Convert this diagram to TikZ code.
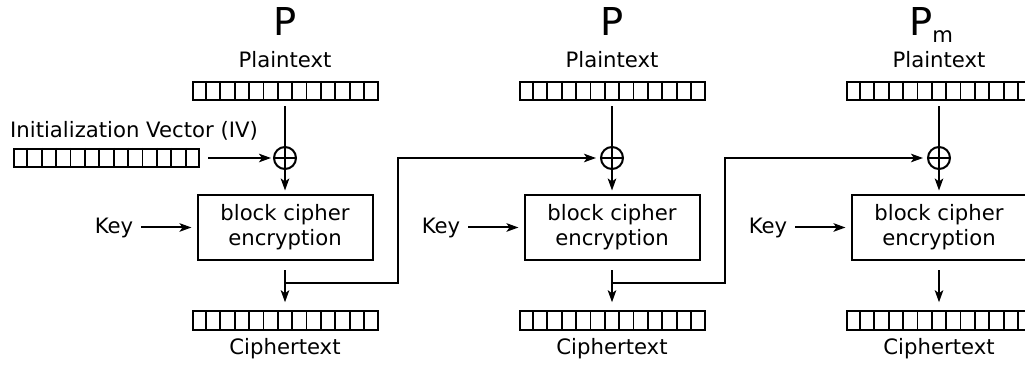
\documentclass[tikz,border=0pt]{standalone}
\usepackage{fontspec}
\setmainfont{DejaVu Sans}
\usetikzlibrary{calc,arrows.meta}
\tikzset{
  every node/.style={font=\fontsize{21.2}{25}\selectfont, inner sep=0pt},
  ln/.style={line width=2pt},
  arr/.style={ln, -{Stealth[length=12pt,width=8.5pt,inset=3pt]}},
  reg/.style={draw, rectangle, line width=2pt, minimum width=185pt, minimum height=18.5pt},
  cell/.style={line width=1.8pt},
  enc/.style={draw, rectangle, line width=2pt, minimum width=175pt, minimum height=65pt, align=center},
  xor/.style={draw, circle, line width=2pt, minimum size=22pt,
    path picture={\draw[line width=1.8pt] (path picture bounding box.north) -- (path picture bounding box.south)
      (path picture bounding box.west) -- (path picture bounding box.east);}},
  big/.style={font=\fontsize{38.4}{40}\selectfont, anchor=base west},
  lbl/.style={anchor=base},
}
\newcommand{\regbox}[2]{%
  \node[reg] (#1) at (#2) {};
  \foreach \k in {1,...,12}{\draw[cell] ($(#1.north west)!\k/13!(#1.north east)$) -- ($(#1.south west)!\k/13!(#1.south east)$);}%
}
\begin{document}
\begin{tikzpicture}[x=1pt,y=-1pt]
\path[use as bounding box] (0,0) rectangle (1025,364);
\clip (0,0) rectangle (1025,364);

% big labels
\node[big] (p1) at (273,35) {P};
\node[big] (p2) at (600,35) {P};
\node[big] (p3) at (909,35) {P\raisebox{-7pt}{\fontsize{21.2}{25}\selectfont m}};

% IV
\node[anchor=base west] (ivl) at (10,137) {Initialization Vector (IV)};
\regbox{iv}{106.5,158}

\foreach \i/\cx in {1/285,2/612,3/939} {
  \regbox{pt\i}{\cx,91}
  \node[lbl] (ptl\i) at (\cx,67) {Plaintext};
  \node[xor] (x\i) at (\cx,158) {};
  \node[enc] (e\i) at (\cx,227.5) {block cipher\\encryption};
  \node[lbl] (k\i) at ({\cx-171},233) {Key};
  \regbox{ct\i}{\cx,320.5}
  \node[lbl] (ctl\i) at (\cx,354) {Ciphertext};
  \draw[ln, shorten <=5pt] (pt\i.south) -- (x\i.north);
  \draw[arr, shorten >=3.5pt] (x\i.south) -- (e\i.north);
  \draw[arr, shorten <=8pt, shorten >=5pt] (k\i.east) -- (k\i.east -| e\i.west);
  \draw[arr, shorten <=9pt, shorten >=8pt] (e\i.south) -- (ct\i.north);
}

\draw[arr, shorten <=8pt, shorten >=2pt] (iv.east) -- (x1.west);

\coordinate (t1) at (285,283);
\coordinate (t2) at (612,283);
\draw[arr, shorten >=4pt] (t1) -- ++(113,0) |- (x2.west);
\draw[arr, shorten >=4pt] (t2) -- ++(113,0) |- (x3.west);
\end{tikzpicture}
\end{document}
